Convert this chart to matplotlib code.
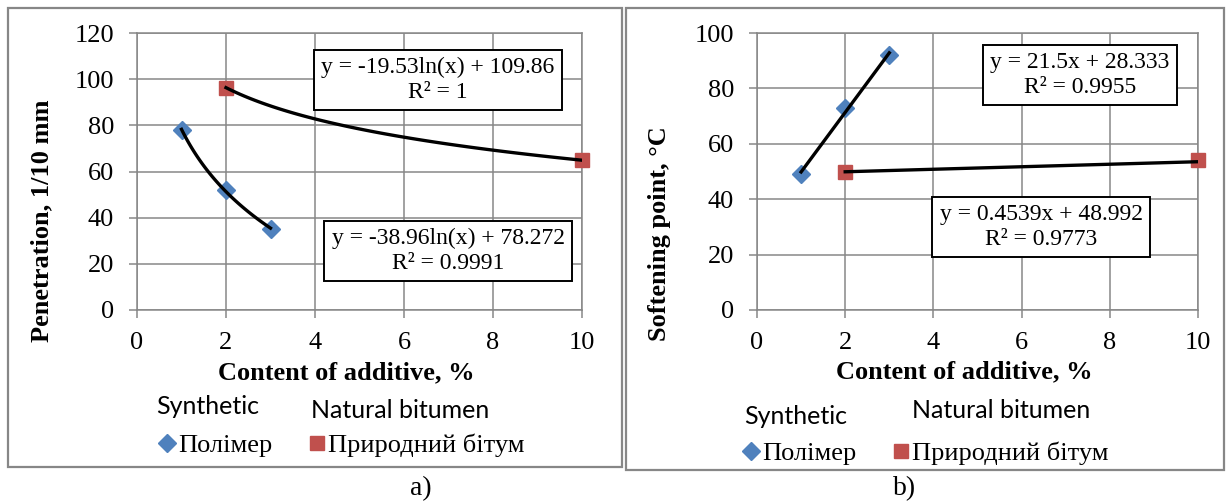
import numpy as np
import matplotlib
matplotlib.use('Agg')
import matplotlib.pyplot as plt
from matplotlib.patches import Rectangle

# data
additive_poly = [1, 2, 3]
additive_nat = [2, 10]

pen_poly = [78, 52, 35]
pen_nat = [96, 65]

soft_poly = [49, 73, 92]
soft_nat = [50, 54]

# trendline coefficients shown in the chart boxes
pen_poly_fit = [-38.96, 78.272]   # a*ln(x) + b
pen_nat_fit = [-19.53, 109.86]
soft_poly_fit = [21.5, 28.333]    # a*x + b
soft_nat_fit = [0.4539, 48.992]

blue = '#4F81BD'
red = '#C0504D'
grey = '#878787'
serif = 'Liberation Serif'

plt.rcParams['font.family'] = serif

W, H = 1227, 504
fig = plt.figure(figsize=(W / 100, H / 100), dpi=100)


def fx(px):
    return px / W


def fy(py):
    return 1 - py / H


# panel frames
fig.add_artist(Rectangle((fx(8), fy(467)), fx(622 - 8), (467 - 8) / H,
                         transform=fig.transFigure, fill=False,
                         edgecolor=grey, lw=1.6))
fig.add_artist(Rectangle((fx(626), fy(470)), fx(1224 - 626), (470 - 8) / H,
                         transform=fig.transFigure, fill=False,
                         edgecolor=grey, lw=1.6))


def style_axes(ax, ymax):
    ax.set_xlim(0, 10)
    ax.set_ylim(0, ymax)
    ax.set_xticks(range(0, 11, 2))
    ax.set_yticks(range(0, ymax + 1, 20))
    ax.grid(True, color=grey, lw=1.1)
    ax.set_axisbelow(True)
    for s in ax.spines.values():
        s.set_color(grey)
        s.set_linewidth(1.1)
    ax.tick_params(colors=grey, labelcolor='black', length=5.5, width=1.1,
                   labelsize=19)
    ax.tick_params(axis='y', pad=11)
    ax.tick_params(axis='x', pad=10)
    for lab in ax.get_xticklabels() + ax.get_yticklabels():
        lab.set_family(serif)


def add_legend(ax, h1, h2, cx, cy):
    ax.legend([h1, h2], ['Полімер', 'Природний бітум'], ncol=2,
              loc='center', bbox_to_anchor=(fx(cx), fy(cy)),
              bbox_transform=fig.transFigure, frameon=False,
              prop={'family': serif, 'size': 19}, handlelength=0.55,
              handletextpad=0.15, columnspacing=1.4, borderpad=0)


box = dict(boxstyle='square,pad=0.3', fc='white', ec='black', lw=1.4)

# ---- a) penetration ----
ax1 = fig.add_axes([fx(137), fy(310), (582 - 137) / W, (310 - 33) / H])
style_axes(ax1, 120)
h1, = ax1.plot(additive_poly, pen_poly, 'D', color=blue, ms=9.5, zorder=3, clip_on=False)
h2, = ax1.plot(additive_nat, pen_nat, 's', color=red, ms=10.5, zorder=3, clip_on=False)
xs = np.linspace(min(additive_poly), max(additive_poly), 100)
ax1.plot(xs, pen_poly_fit[0] * np.log(xs) + pen_poly_fit[1], color='black', lw=2.4, zorder=4)
xs = np.linspace(min(additive_nat), max(additive_nat), 100)
ax1.plot(xs, pen_nat_fit[0] * np.log(xs) + pen_nat_fit[1], color='black', lw=2.4, zorder=4)
ax1.set_xlabel('Content of additive, %', fontsize=19, fontweight='bold', va='center')
ax1.xaxis.set_label_coords(0.47, -0.227)
ax1.set_ylabel('Penetration, 1/10 mm', fontsize=19, fontweight='bold', va='center')
ax1.yaxis.set_label_coords(-0.215, 0.321)
fig.text(fx(438), fy(80), 'y = -19.53ln(x) + 109.86\nR² = 1', ha='center', va='center',
         fontsize=17, multialignment='center', bbox=box)
fig.text(fx(448), fy(251), 'y = -38.96ln(x) + 78.272\nR² = 0.9991', ha='center', va='center',
         fontsize=17, multialignment='center', bbox=box)
fig.text(fx(208), fy(407), 'Synthetic', family='Lato', fontsize=18, ha='center', va='center')
fig.text(fx(400), fy(410), 'Natural bitumen', family='Lato', fontsize=18, ha='center', va='center')
add_legend(ax1, h1, h2, 342, 445)
fig.text(fx(421), fy(489), 'a)', fontsize=20, ha='center', va='center')

# ---- b) softening point ----
ax2 = fig.add_axes([fx(757), fy(310), (1198 - 757) / W, (310 - 33) / H])
style_axes(ax2, 100)
h1, = ax2.plot(additive_poly, soft_poly, 'D', color=blue, ms=9.5, zorder=3, clip_on=False)
h2, = ax2.plot(additive_nat, soft_nat, 's', color=red, ms=10.5, zorder=3, clip_on=False)
xs = np.array([min(additive_poly), max(additive_poly)])
ax2.plot(xs, soft_poly_fit[0] * xs + soft_poly_fit[1], color='black', lw=2.4, zorder=4)
xs = np.array([min(additive_nat), max(additive_nat)])
ax2.plot(xs, soft_nat_fit[0] * xs + soft_nat_fit[1], color='black', lw=2.4, zorder=4)
ax2.set_xlabel('Content of additive, %', fontsize=19, fontweight='bold', va='center')
ax2.xaxis.set_label_coords(0.469, -0.224)
ax2.set_ylabel('Softening point, °C', fontsize=19, fontweight='bold', va='center')
ax2.yaxis.set_label_coords(-0.22, 0.274)
fig.text(fx(1080), fy(75), 'y = 21.5x + 28.333\nR² = 0.9955', ha='center', va='center',
         fontsize=17, multialignment='center', bbox=box)
fig.text(fx(1041), fy(227), 'y = 0.4539x + 48.992\nR² = 0.9773', ha='center', va='center',
         fontsize=17, multialignment='center', bbox=box)
fig.text(fx(796), fy(417), 'Synthetic', family='Lato', fontsize=18, ha='center', va='center')
fig.text(fx(1001), fy(411), 'Natural bitumen', family='Lato', fontsize=18, ha='center', va='center')
add_legend(ax2, h1, h2, 926, 453)
fig.text(fx(905), fy(489), 'b)', fontsize=20, ha='center', va='center')

plt.savefig('out.png', dpi=100)
